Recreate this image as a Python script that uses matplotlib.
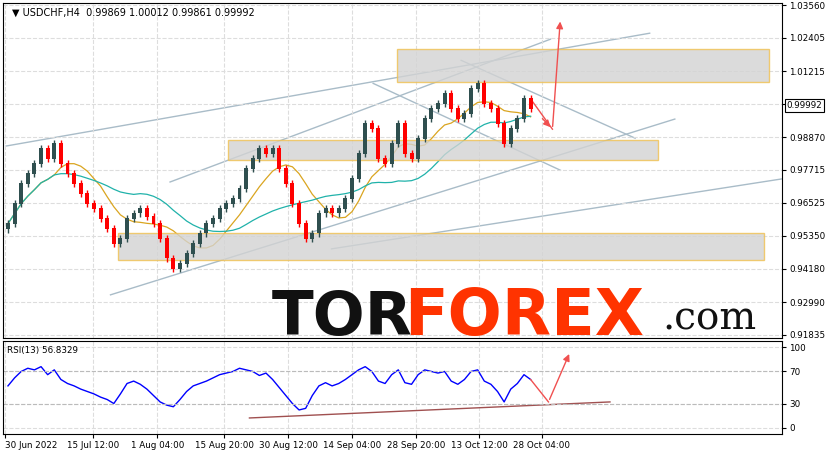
import numpy as np
import pandas as pd
import matplotlib.pyplot as plt
from matplotlib.patches import Rectangle

# closes (one per slot)
closes = [0.9579, 0.9650, 0.9721, 0.9757, 0.9792, 0.9846, 0.9810, 0.9863, 0.9792, 0.9757,
          0.9721, 0.9686, 0.9650, 0.9632, 0.9597, 0.9561, 0.9508, 0.9526, 0.9597, 0.9615,
          0.9632, 0.9604, 0.9579, 0.9526, 0.9455, 0.9419, 0.9437, 0.9472, 0.9508, 0.9544,
          0.9579, 0.9597, 0.9632, 0.9650, 0.9668, 0.9703, 0.9774, 0.9810, 0.9846, 0.9828,
          0.9846, 0.9774, 0.9721, 0.9650, 0.9579, 0.9526, 0.9544, 0.9615, 0.9632, 0.9615,
          0.9632, 0.9668, 0.9739, 0.9828, 0.9934, 0.9917, 0.9810, 0.9792, 0.9863, 0.9934,
          0.9828, 0.9810, 0.9881, 0.9952, 0.9988, 1.0006, 1.0041, 0.9988, 0.9952, 0.9970,
          1.0059, 1.0077, 1.0006, 0.9988, 0.9934, 0.9863, 0.9917, 0.9952, 1.0023, 0.9988]
rsi = [52, 62, 70, 74, 72, 76, 66, 72, 60, 55, 52, 48, 45, 42, 38, 35, 30, 42, 55, 58,
       54, 48, 40, 32, 28, 26, 35, 45, 52, 55, 58, 62, 66, 68, 70, 74, 72, 70, 65, 68,
       60, 50, 40, 30, 22, 24, 40, 52, 56, 52, 55, 60, 66, 72, 76, 70, 58, 55, 66, 72,
       56, 54, 66, 72, 70, 68, 70, 58, 54, 60, 70, 72, 58, 54, 45, 32, 48, 55, 66, 60]
price_ticks = [1.03560, 1.02405, 1.01215, 1.00050, 0.98870, 0.97715, 0.96525,
               0.95350, 0.94180, 0.92990, 0.91835]
date_labels = ['30 Jun 2022', '15 Jul 12:00', '1 Aug 04:00', '15 Aug 20:00', '30 Aug 12:00',
               '14 Sep 04:00', '28 Sep 20:00', '13 Oct 12:00', '28 Oct 04:00']
date_pos = [-0.4, 12.8, 22.6, 32.7, 42.4, 52.0, 61.7, 71.2, 80.7]

# trend lines (bar index, price)
lines = [((-0.3, 0.98550), (97.0, 1.02565)),
         ((24.5, 0.97271), (82.0, 1.02352)),
         ((15.5, 0.93256), (100.8, 0.99510)),
         ((48.9, 0.94891), (116.9, 0.97378)),
         ((55.2, 1.0078), (83.5, 0.9769)),
         ((68.5, 1.0160), (94.8, 0.9883))]
zones = [(58.8, 115.1, 1.0083, 1.0200), (33.3, 98.3, 0.9804, 0.9875), (16.6, 114.3, 0.9448, 0.9544)]

up_col, dn_col = '#2f4f4f', '#ff0000'
fig = plt.figure(figsize=(8.28, 4.55), dpi=100)
W, H = 828, 455
ax = fig.add_axes([3 / W, 1 - 338 / H, 779 / W, 335 / H])
ax2 = fig.add_axes([3 / W, 1 - 434 / H, 779 / W, 93 / H])

c = np.array(closes)
o = np.r_[c[0] - 0.002, c[:-1]]
x = np.arange(len(c))
hi = np.maximum(o, c) + 0.0012
lo = np.minimum(o, c) - 0.0012
cols = [up_col if cc >= oo else dn_col for oo, cc in zip(o, c)]
ax.vlines(x, lo, hi, colors=cols, lw=1, zorder=3)
ax.bar(x, np.abs(c - o) + 0.0002, bottom=np.minimum(o, c), width=0.6, color=cols, zorder=3)
s = pd.Series(c)
ax.plot(x, s.rolling(8, min_periods=1).mean(), color='#daa520', lw=0.9, zorder=2)
ax.plot(x, s.rolling(20, min_periods=1).mean(), color='#20b2aa', lw=0.9, zorder=2)

for (x0, p0), (x1, p1) in lines:
    ax.plot([x0, x1], [p0, p1], color='#a9bcc8', lw=1, zorder=1)
for x0, x1, p0, p1 in zones:
    ax.add_patch(Rectangle((x0, p0), x1 - x0, p1 - p0, facecolor='#d3d3d3', alpha=0.8,
                           edgecolor='#f0c050', lw=1, zorder=2.5))
ax.annotate('', xy=(83.5, 1.0308), xytext=(82.3, 0.9915),
            arrowprops=dict(arrowstyle='-|>', color='#f05050', lw=1))
ax.plot([79, 82.3], [1.0023, 0.9915], color='#f05050', lw=1)
ax.annotate('', xy=(82.3, 0.9915), xytext=(80.5, 0.9960),
            arrowprops=dict(arrowstyle='-|>', color='#f05050', lw=1))

ax.set_xlim(-0.75, 117)
ax.set_ylim(0.9172, 1.0364)
ax.set_yticks(price_ticks)
ax.yaxis.tick_right()
ax.set_yticklabels([f'{p:.5f}' if p != 1.00050 else '' for p in price_ticks], fontsize=6.3)
ax.tick_params(axis='y', length=3, pad=2)
ax.set_xticks(date_pos)
ax.set_xticklabels([])
ax.tick_params(axis='x', length=0)
ax.grid(color='#dddddd', ls='--', lw=0.8)
ax.text(0.012, 0.985, '▼ USDCHF,H4  0.99869 1.00012 0.99861 0.99992', transform=ax.transAxes,
        fontsize=7, va='top')
ax.text(1.006, 0.99992, '0.99992', transform=ax.get_yaxis_transform(), fontsize=6.3, va='center',
        zorder=10, bbox=dict(facecolor='white', edgecolor='black', lw=0.8, pad=1.2))

fig.text(272 / W, 1 - 335 / H, 'TOR', fontsize=44, fontweight='black', color='#111111')
fig.text(404 / W, 1 - 335 / H, 'FOREX', fontsize=46, fontweight='black', color='#ff3300')
fig.text(662 / W, 1 - 330 / H, '.com', fontsize=28, family='DejaVu Serif', color='#111111', ha='left')

ax2.plot(x, rsi, color='#0000ff', lw=1)
ax2.plot([36.5, 91], [12, 32], color='#a05050', lw=1)
ax2.plot([79, 81.7], [60, 32], color='#f05050', lw=1)
ax2.annotate('', xy=(85, 95), xytext=(81.7, 32),
             arrowprops=dict(arrowstyle='-|>', color='#f05050', lw=1))
ax2.set_xlim(-0.75, 117)
ax2.set_ylim(-8, 108)
ax2.set_yticks([0, 30, 70, 100])
ax2.yaxis.tick_right()
ax2.tick_params(labelsize=6.3, length=3, pad=2)
ax2.set_xticks(date_pos)
ax2.set_xticklabels(date_labels, fontsize=6.3)
ax2.get_xticklabels()[0].set_ha('left')
ax2.grid(color='#dddddd', ls='--', lw=0.8)
for yv in [30, 70]:
    ax2.axhline(yv, color='#bbbbbb', ls='--', lw=0.8)
ax2.text(0.005, 0.95, 'RSI(13) 56.8329', transform=ax2.transAxes, fontsize=6.3, va='top')

fig.savefig('out.png', dpi=100)
